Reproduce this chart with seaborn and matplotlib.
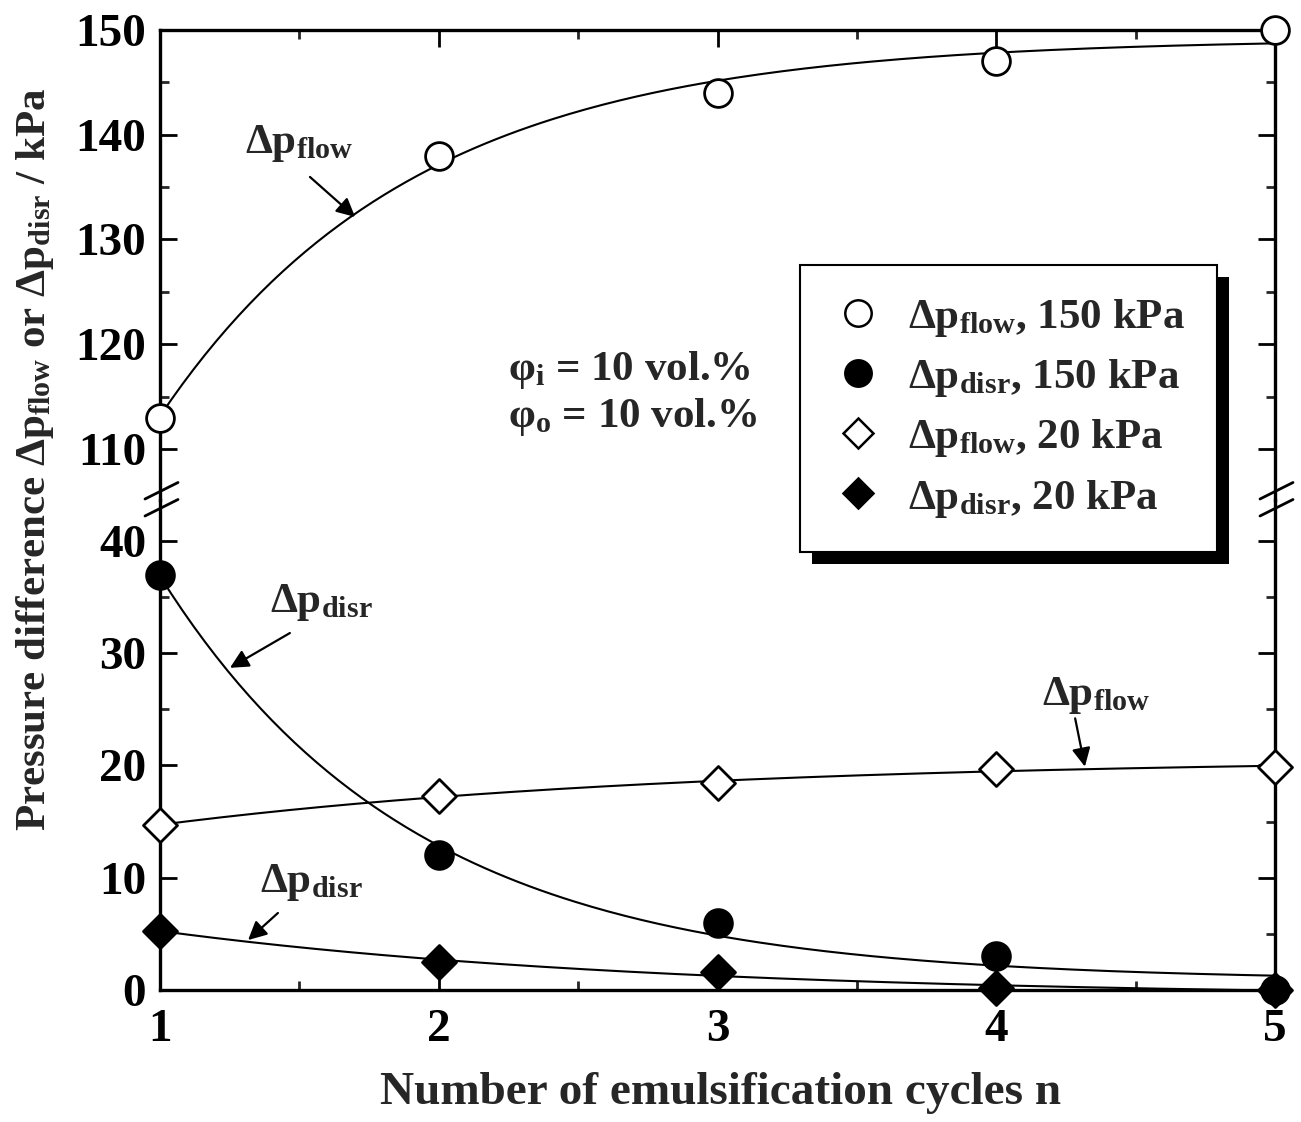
import numpy as np
import pandas as pd
import matplotlib
matplotlib.use("Agg")
import matplotlib.pyplot as plt
import seaborn as sns
from matplotlib.ticker import MultipleLocator
from matplotlib.lines import Line2D
from matplotlib.patches import Rectangle

# ---------------- data ----------------
cycles = [1, 2, 3, 4, 5]
flow_150 = [113.0, 138.0, 144.0, 147.0, 150.0]
disr_150 = [37.0, 12.0, 6.0, 3.0, 0.0]
flow_20 = [14.7, 17.3, 18.4, 19.7, 19.9]
disr_20 = [5.3, 2.5, 1.6, 0.2, 0.0]

legend_labels = ["Δp$_{\\mathrm{flow}}$, 150 kPa", "Δp$_{\\mathrm{disr}}$, 150 kPa",
                 "Δp$_{\\mathrm{flow}}$, 20 kPa", "Δp$_{\\mathrm{disr}}$, 20 kPa"]
x_label = "Number of emulsification cycles n"
y_label = "Pressure difference Δp$_{\\mathrm{flow}}$ or Δp$_{\\mathrm{disr}}$ / kPa"

sns.set_style("ticks")
plt.rcParams["font.family"] = ["Liberation Serif", "DejaVu Serif"]
plt.rcParams["font.weight"] = "bold"
plt.rcParams["mathtext.fontset"] = "custom"
plt.rcParams["mathtext.rm"] = "Liberation Serif:bold"
plt.rcParams["mathtext.it"] = "Liberation Serif:bold"
plt.rcParams["mathtext.bf"] = "Liberation Serif:bold"
plt.rcParams["mathtext.default"] = "rm"


def exp_fit(x, y):
    """least-squares fit of y = a + b*exp(-k x) (grid search on k)"""
    x = np.asarray(x, float); y = np.asarray(y, float)
    best = None
    for k in np.linspace(0.05, 5, 2000):
        A = np.column_stack([np.ones_like(x), np.exp(-k * x)])
        coef, *_ = np.linalg.lstsq(A, y, rcond=None)
        r = np.sum((A @ coef - y) ** 2)
        if best is None or r < best[0]:
            best = (r, k, coef)
    _, k, (a, b) = best
    xf = np.linspace(x.min(), x.max(), 200)
    return xf, a + b * np.exp(-k * xf)


W, H = 1301, 1122
fig = plt.figure(figsize=(W / 100, H / 100), dpi=100)
x0, x1 = 160 / W, 1275 / W
ytop, ybrk, ybot = 1 - 30 / H, 1 - 500 / H, 1 - 990 / H
ax_t = fig.add_axes([x0, ybrk, x1 - x0, ytop - ybrk])
ax_b = fig.add_axes([x0, ybot, x1 - x0, ybrk - ybot])

lw_sp = 2.4
for ax in (ax_t, ax_b):
    for s in ax.spines.values():
        s.set_linewidth(lw_sp)
        s.set_color("black")
    ax.set_xlim(1, 5)
    ax.xaxis.set_major_locator(MultipleLocator(1))
    ax.xaxis.set_minor_locator(MultipleLocator(0.5))
    ax.yaxis.set_major_locator(MultipleLocator(10))
    ax.yaxis.set_minor_locator(MultipleLocator(5))
    ax.tick_params(which="major", direction="in", length=12, width=2, labelsize=34, pad=10,
                   left=True, right=True, colors="black")
    ax.tick_params(which="minor", direction="in", length=6.5, width=2, left=True, right=True)
    ax.patch.set_alpha(0)

ax_t.set_ylim(105.13, 150)
ax_b.set_ylim(0, 43.65)
ax_t.spines["bottom"].set_visible(False)
ax_b.spines["top"].set_visible(False)
ax_t.tick_params(which="both", bottom=False, top=True, labelbottom=False)
ax_b.tick_params(which="both", top=False, bottom=True)
ax_b.tick_params(axis="x", which="major", pad=14)

for ax in (ax_t, ax_b):
    for lab in ax.get_xticklabels() + ax.get_yticklabels():
        lab.set_fontweight("bold")

df = pd.DataFrame({"n": cycles, "flow150": flow_150, "disr150": disr_150,
                   "flow20": flow_20, "disr20": disr_20})

# fitted curves
for ax, col in [(ax_t, "flow150"), (ax_b, "disr150"), (ax_b, "flow20"), (ax_b, "disr20")]:
    xf, yf = exp_fit(df["n"], df[col])
    sns.lineplot(x=xf, y=yf, ax=ax, color="black", linewidth=1.5, zorder=2)

ms_c, ms_d = 400, 300
sns.scatterplot(data=df, x="n", y="flow150", ax=ax_t, marker="o", s=ms_c, facecolor="white",
                edgecolor="black", linewidth=2, zorder=5, clip_on=False)
sns.scatterplot(data=df, x="n", y="disr150", ax=ax_b, marker="o", s=ms_c, facecolor="black",
                edgecolor="black", linewidth=2, zorder=5, clip_on=False)
sns.scatterplot(data=df, x="n", y="flow20", ax=ax_b, marker="D", s=ms_d, facecolor="white",
                edgecolor="black", linewidth=2, zorder=5, clip_on=False)
sns.scatterplot(data=df, x="n", y="disr20", ax=ax_b, marker="D", s=ms_d, facecolor="black",
                edgecolor="black", linewidth=2, zorder=5, clip_on=False)

for ax in (ax_t, ax_b):
    ax.set_xlabel("")
    ax.set_ylabel("")

# annotations
fs_ann = 31
arrow = dict(arrowstyle="-|>", color="black", lw=1.6, mutation_scale=28, shrinkA=0, shrinkB=0)
ann = [
    (ax_t, "Δp$_{\\mathrm{flow}}$", (1.305, 138.3), (1.538, 135.97), (1.70, 132.15)),
    (ax_b, "Δp$_{\\mathrm{disr}}$", (1.395, 33.7), (1.466, 31.8), (1.251, 28.7)),
    (ax_b, "Δp$_{\\mathrm{flow}}$", (4.164, 25.4), (4.283, 24.2), (4.318, 19.9)),
    (ax_b, "Δp$_{\\mathrm{disr}}$", (1.359, 8.73), (1.423, 6.86), (1.316, 4.45)),
]
for ax, txt, tp, tail, head in ann:
    ax.text(*tp, txt, fontsize=fs_ann, fontweight="bold", ha="left", va="baseline")
    ax.annotate("", xy=head, xytext=tail, arrowprops=arrow)

ax_t.text(2.248, 116.6, "φ$_{\\mathrm{i}}$ = 10 vol.%", fontsize=fs_ann, fontweight="bold",
          ha="left", va="baseline")
ax_t.text(2.248, 112.1, "φ$_{\\mathrm{o}}$ = 10 vol.%", fontsize=fs_ann, fontweight="bold",
          ha="left", va="baseline")

# break marks
def brk(xf, yf):
    for dy in (8.5, -8.5):
        fig.add_artist(Line2D([xf - 15 / W, xf + 18 / W],
                              [yf + dy / H - 7.5 / H, yf + dy / H + 9 / H],
                              color="black", lw=2, transform=fig.transFigure, zorder=6))
brk(x0, ybrk)
brk(x1, ybrk)

# labels
fig.text(0.554, 0.026, x_label, fontsize=34, fontweight="bold", ha="center", va="center")
fig.text(35 / W, 1 - 459 / H, y_label, fontsize=31, fontweight="bold", rotation=90,
         ha="center", va="center")

# legend
handles = [
    Line2D([], [], ls="none", marker="o", ms=19, mfc="white", mec="black", mew=1.8),
    Line2D([], [], ls="none", marker="o", ms=19, mfc="black", mec="black", mew=1.8),
    Line2D([], [], ls="none", marker="D", ms=15, mfc="white", mec="black", mew=1.8),
    Line2D([], [], ls="none", marker="D", ms=15, mfc="black", mec="black", mew=1.8),
]
leg = fig.legend(handles, legend_labels, loc="upper left", bbox_to_anchor=(800 / W, 1 - 265 / H),
                 frameon=True, fancybox=False, edgecolor="black", facecolor="white",
                 framealpha=1, fontsize=31,
                 handlelength=1.2, handletextpad=0.55, borderpad=0.75, labelspacing=0.42,
                 borderaxespad=0)
leg.get_frame().set_linewidth(1.5)
leg.set_zorder(10)

fig.canvas.draw()
bb = leg.get_frame().get_window_extent(fig.canvas.get_renderer())
inv = fig.transFigure.inverted()
(fx0, fy0) = inv.transform((bb.x0 + 12, bb.y0 - 12))
(fx1, fy1) = inv.transform((bb.x1 + 12, bb.y1 - 12))
fig.add_artist(Rectangle((fx0, fy0), fx1 - fx0, fy1 - fy0, transform=fig.transFigure,
                         facecolor="black", edgecolor="none", zorder=9))

fig.savefig("out.png", dpi=100)
